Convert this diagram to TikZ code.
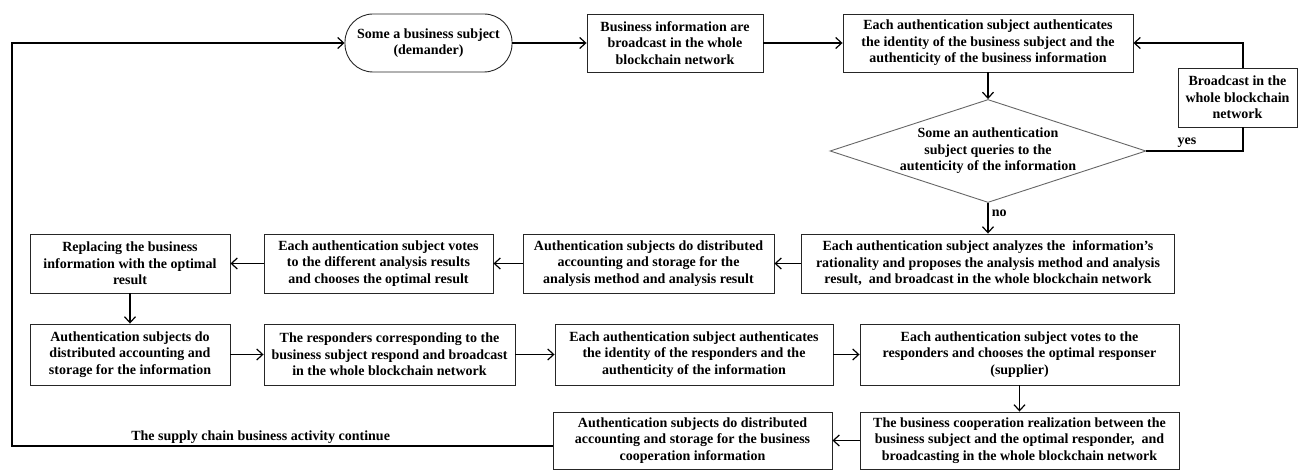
\documentclass[tikz,border=0pt]{standalone}
\usepackage{fontspec}
\setmainfont{Liberation Serif}
\usetikzlibrary{arrows.meta,shapes.geometric}

\begin{document}
\begin{tikzpicture}[x=1pt,y=-1pt,
  txt/.style={font=\bfseries\fontsize{14}{16.5}\selectfont,align=center},
  box/.style={txt,draw=black!85,line width=0.9pt,inner sep=0pt,minimum height=58pt},
  term/.style={box,rounded corners=28pt},
  decide/.style={diamond,draw=black!60,line width=0.9pt,inner sep=0pt,minimum width=316pt,minimum height=103pt},
  arr/.style={line width=1.2pt,-{Straight Barb[length=6pt,width=11pt]}},
  lin/.style={line width=1.2pt}]
\useasboundingbox (0,0) rectangle (1298,470);
% first row
\node[term,minimum width=167pt] (T) at (428.5,43) {Some a business subject\\(demander)};
\node[box,minimum width=176pt] (B1) at (675,43) {Business information are\\broadcast in the whole\\blockchain network};
\node[box,minimum width=290pt] (A1) at (988,43) {Each authentication subject authenticates\\the identity of the business subject and the\\authenticity of the business information};
\node[box,minimum width=119pt,minimum height=59pt] (Bc) at (1237.5,97.5) {Broadcast in the\\whole blockchain\\network};
% the query
\node[decide] (D) at (988,151) {};
\node[txt] (Dq) at (D) {Some an authentication\\subject queries to the\\autenticity of the information};
% second row
\node[box,minimum width=373pt,minimum height=59pt] (An) at (988,263.5) {Each authentication subject analyzes the~ information’s\\rationality and proposes the analysis method and analysis\\result,~ and broadcast in the whole blockchain network};
\node[box,minimum width=251pt,minimum height=59pt] (S1) at (648.5,263.5) {Authentication subjects do distributed\\accounting and storage for the\\analysis method and analysis result};
\node[box,minimum width=229pt,minimum height=59pt] (V) at (378.5,263.5) {Each authentication subject votes\\to the different analysis results\\and chooses the optimal result};
\node[box,minimum width=200pt,minimum height=59pt] (R) at (130,263.5) {Replacing the business\\information with the optimal\\result};
% third row
\node[box,minimum width=200pt,minimum height=61pt] (S2) at (130,354.5) {Authentication subjects do\\distributed accounting and\\storage for the information};
\node[box,minimum width=251pt,minimum height=61pt] (Rs) at (389.5,354.5) {The responders corresponding to the\\business subject respond and broadcast\\in the whole blockchain network};
\node[box,minimum width=278pt,minimum height=61pt] (A2) at (694,354.5) {Each authentication subject authenticates\\the identity of the responders and the\\authenticity of the information};
\node[box,minimum width=319pt,minimum height=61pt] (V2) at (1019.5,354.5) {Each authentication subject votes to the\\responders and chooses the optimal responser\\(supplier)};
% last row
\node[box,minimum width=319pt,minimum height=57pt] (C) at (1019.5,440.5) {The business cooperation realization between the\\business subject and the optimal responder,~ and\\broadcasting in the whole blockchain network};
\node[box,minimum width=279pt,minimum height=57pt] (S3) at (692.5,440.5) {Authentication subjects do distributed\\accounting and storage for the business\\cooperation information};
% arrows along the rows
\foreach \a/\b in {T/B1,B1/A1,A1/D,An/S1,S1/V,V/R,R/S2,S2/Rs,Rs/A2,A2/V2,V2/C,C/S3}
\draw[arr] (\a) -- (\b);
\draw[arr] (D.south) -- node[txt,right,pos=0.35] {no} (An.north);
% yes branch back to the authentication
\coordinate (yesR) at (1243,151);
\draw[lin] (D.east) -- node[txt,above,pos=0.42] {yes} (yesR) -- (yesR |- Bc.south);
\draw[arr] (yesR |- Bc.north) -- (yesR |- A1.east) -- (A1.east);
% loop back to the start
\coordinate (loopL) at (12,446);
\draw[arr] (S3.west |- loopL) -- node[txt,above,pos=0.54,inner sep=2pt] {The supply chain business activity continue} (loopL) -- (loopL |- T.west) -- (T.west);
\end{tikzpicture}
\end{document}
